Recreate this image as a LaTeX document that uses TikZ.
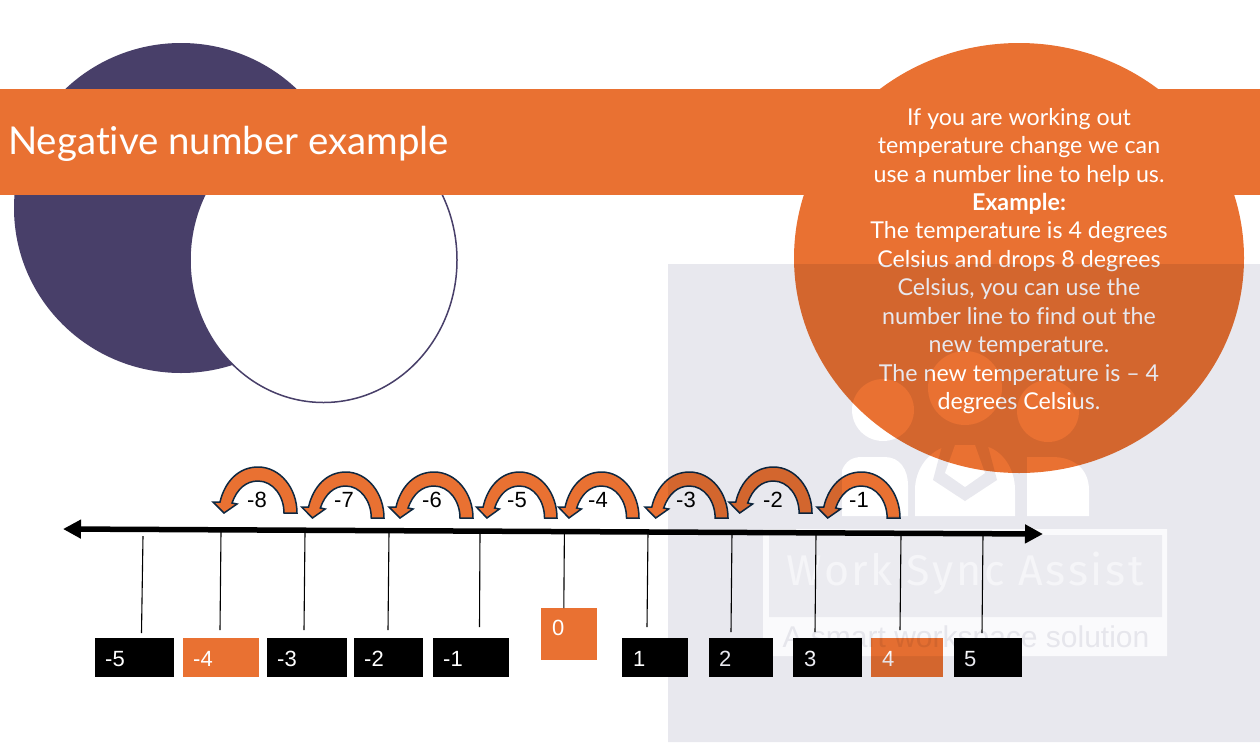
\documentclass[tikz,border=0pt]{standalone}
\usepackage{fontspec}
\setmainfont{Lato}[Ligatures=NoCommon]
\newfontfamily\arialfont{Liberation Sans}
\newfontfamily\wmfont[LetterSpace=6]{Fira Sans}
\usetikzlibrary{arrows.meta}
\definecolor{orangeA}{HTML}{E97132}
\definecolor{navyA}{HTML}{483F69}
\definecolor{panelA}{HTML}{E8E8EE}
\definecolor{bandA}{HTML}{FAFAFC}
\definecolor{innerA}{HTML}{EBEBF0}
\definecolor{letterA}{HTML}{F5F5F8}
\definecolor{smalltxtA}{HTML}{E6E6EC}
\definecolor{curveedge}{HTML}{0E2841}
\tikzset{
  numbox/.style={fill=black,text=white,anchor=north west,inner sep=0pt,minimum height=39pt,align=left,font=\arialfont\fontsize{22}{22}\selectfont},
  orangebox/.style={numbox,fill=orangeA},
  tick/.style={draw=black,line width=1.1pt},
  jumplabel/.style={font=\arialfont\fontsize{22}{22}\selectfont,text=black,inner sep=0pt},
  bigarrow/.style={line width=5.5pt,{Triangle[length=18pt,width=18pt]}-{Triangle[length=18pt,width=18pt]}},
}
\newcommand{\boxlabel}[2]{\hspace{#1pt}\rule[-2pt]{0pt}{22pt}#2}
% #1 = right foot x, #2 = foot y, #3 = width scale
\newcommand{\jumparrow}[3]{%
  \fill[orangeA,draw=curveedge,line width=1.5pt,line join=miter,shift={(#1,#2)},xscale=#3]
    (0,0) -- (-13,0)
    .. controls (-13,-17) and (-24,-32) .. (-39,-32)
    .. controls (-51,-32) and (-60,-24) .. (-65,-10)
    -- (-60,-9) -- (-73,0) -- (-84,-11) -- (-77,-11)
    .. controls (-72,-32) and (-58,-46) .. (-39,-46)
    .. controls (-17,-46) and (0,-25) .. (0,0) -- cycle;
}
\begin{document}
\begin{tikzpicture}[x=1pt,y=-1pt]
\useasboundingbox (0,0) rectangle (1260,742);
\fill[white] (0,0) rectangle (1260,742);
% circles
\fill[navyA] (181,208) ellipse[x radius=167,y radius=165];
\fill[white,draw=navyA,line width=1.5pt] (323.5,260) ellipse[x radius=133.5,y radius=142.5];
% band
\fill[orangeA] (0,89) rectangle (1260,195);
\fill[orangeA] (1019,258) ellipse[x radius=225,y radius=215];
% number line
\coordinate (lineL) at (63,529);
\coordinate (lineR) at (1043,534);
\draw[bigarrow] (lineL) -- (lineR);
% boxes
\node[numbox,text width=79pt,minimum width=79pt] (nm5) at (95,638) {\boxlabel{10}{-5}};
\node[orangebox,text width=76pt,minimum width=76pt] (nm4) at (183,638) {\boxlabel{10}{-4}};
\node[numbox,text width=80pt,minimum width=80pt] (nm3) at (267,638) {\boxlabel{10}{-3}};
\node[numbox,text width=69pt,minimum width=69pt] (nm2) at (354,638) {\boxlabel{10}{-2}};
\node[numbox,text width=76pt,minimum width=76pt] (nm1) at (433,638) {\boxlabel{10}{-1}};
\node[orangebox,text width=56pt,minimum width=56pt,minimum height=52pt] (n0) at (541,608) {\hspace{11pt}\rule[-13pt]{0pt}{29pt}0};
\node[numbox,text width=66pt,minimum width=66pt] (n1) at (622,638) {\boxlabel{11}{1}};
\node[numbox,text width=64pt,minimum width=64pt] (n2) at (709,638) {\boxlabel{10}{2}};
\node[numbox,text width=69pt,minimum width=69pt] (n3) at (793,638) {\boxlabel{11}{3}};
\node[orangebox,text width=72pt,minimum width=72pt] (n4) at (871,638) {\boxlabel{11}{4}};
\node[numbox,text width=68pt,minimum width=68pt] (n5) at (954,638) {\boxlabel{10}{5}};
% ticks
\draw[tick] (143,536) -- (141.5,633);
\draw[tick] (221,532) -- (220,630);
\draw[tick] (305,532) -- (304,630);
\draw[tick] (389,532) -- (388,630);
\draw[tick] (480,532) -- (479.5,627);
\draw[tick] (564.4,532) -- (563.8,608);
\draw[tick] (648,532) -- (647,627);
\draw[tick] (732,532) -- (731,632);
\draw[tick] (816,534) -- (815,632);
\draw[tick] (901,534) -- (900,630);
\draw[tick] (983,534) -- (982,633);
% jumps
\jumparrow{297}{513}{1}
\jumparrow{384}{518}{0.98}
\jumparrow{473}{518}{1}
\jumparrow{557}{518}{0.96}
\jumparrow{639}{518}{0.96}
\jumparrow{728}{518}{0.99}
\jumparrow{812}{513}{0.99}
\jumparrow{900}{518}{0.99}
\node[jumplabel] (l8) at (257,500) {-8};
\node[jumplabel] (l7) at (344,500) {-7};
\node[jumplabel] (l6) at (432,500) {-6};
\node[jumplabel] (l5) at (517,500) {-5};
\node[jumplabel] (l4) at (598,500) {-4};
\node[jumplabel] (l3) at (686,500) {-3};
\node[jumplabel] (l2) at (773,500) {-2};
\node[jumplabel] (l1) at (859,500) {-1};
% text
\node[anchor=base west,text=white,inner sep=0pt,font=\fontsize{38.4}{38.4}\selectfont] (title) at (8,154) {Negative number example};
\node[text=white,inner sep=0pt,align=center,font=\fontsize{23.2}{28.45}\selectfont] (body) at (1019,261) {If you are working out\\temperature change we can\\use a number line to help us.\\\textbf{Example:}\\The temperature is 4 degrees\\Celsius and drops 8 degrees\\Celsius, you can use the\\number line to find out the\\new temperature.\\The new temperature is – 4\\degrees Celsius.};
% watermark panel, multiplied over everything below it
\begin{scope}[blend mode=multiply]
\begin{scope}[transparency group]
  \fill[panelA] (668,264) rectangle (1260,742);
  % people
  \fill[white] (883,410) circle[radius=31];
  \fill[white] (965,388) circle[radius=37];
  \fill[white] (1048,411) circle[radius=31];
  \fill[white] (842,516) -- (842,470) .. controls (846,461) and (852,457) .. (862,457) -- (885,457) .. controls (900,457) and (908,470) .. (908,485) -- (908,516) -- cycle;
  \fill[white] (915,516) -- (915,490) .. controls (915,468) and (930,450) .. (948,446) -- (985,446) .. controls (1002,450) and (1015,468) .. (1015,490) -- (1015,516) -- cycle;
  \fill[panelA] (942,446) -- (933,480) -- (965,501) -- (997,480) -- (988,446) -- cycle;
  \fill[white] (955,445) -- (975,445) -- (985,473) -- (965,487) -- (945,473) -- cycle;
  \fill[white] (1027,516) -- (1027,457) -- (1052,457) .. controls (1075,457) and (1089,470) .. (1089,490) -- (1089,516) -- cycle;
  % logo frame
  \fill[bandA] (763,529) rectangle (1167,656);
  \fill[innerA] (769,535) rectangle (1162,617);
  \node[anchor=base,inner sep=0pt,text=letterA,font=\wmfont\fontsize{43}{43}\selectfont] (wm1) at (965,585) {Work Sync Assist};
  \node[anchor=base,inner sep=0pt,text=smalltxtA,font=\arialfont\fontsize{30}{30}\selectfont] (wm2) at (966,647) {A smart workspace solution};
\end{scope}
\end{scope}
\end{tikzpicture}
\end{document}
